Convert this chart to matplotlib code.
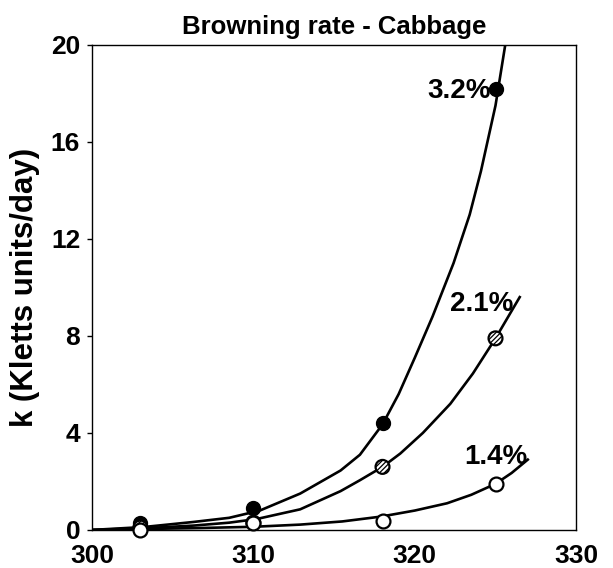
import matplotlib.pyplot as plt

plt.rcParams['font.family'] = ['Liberation Sans', 'DejaVu Sans']
plt.rcParams['font.weight'] = 'bold'
plt.rcParams['hatch.linewidth'] = 0.9

# measured points (temperature, K)
temps = [303, 310, 318, 325]
k_32 = [0.3, 0.9, 4.4, 18.2]
k_21 = [0.1, 0.3, 2.6, 7.9]
k_14 = [0.0, 0.3, 0.35, 1.9]

# fitted curves
fit_x_32 = [300, 303.2, 306.3, 308.5, 310.4, 312.9, 315.4, 316.6, 318.0, 319.0,
            320.0, 321.1, 322.4, 323.4, 324.1, 325.0, 325.7]
fit_y_32 = [0.0, 0.12, 0.33, 0.5, 0.8, 1.5, 2.45, 3.1, 4.35, 5.6,
            7.1, 8.8, 11.0, 13.0, 14.8, 17.5, 20.4]

fit_x_21 = [300, 303.2, 306.3, 308.5, 310.2, 312.9, 315.4, 316.6, 318.0, 319.1,
            320.5, 322.2, 323.6, 325.0, 326.5]
fit_y_21 = [0.0, 0.07, 0.18, 0.3, 0.45, 0.85, 1.6, 2.05, 2.6, 3.15,
            4.0, 5.2, 6.45, 7.9, 9.6]

fit_x_14 = [300, 306.7, 310, 312.9, 315.5, 317.9, 320, 322, 323.5, 325, 326, 327]
fit_y_14 = [0.0, 0.08, 0.13, 0.22, 0.35, 0.55, 0.8, 1.1, 1.45, 1.9, 2.35, 2.9]

labels = ['3.2%', '2.1%', '1.4%']
label_x = [324.7, 326.1, 327.0]
label_y = [18.1, 9.3, 3.0]

fig = plt.figure(figsize=(6.13, 5.68), dpi=100)
ax = fig.add_axes([0.150, 0.067, 0.790, 0.854])

lw = 1.9
ax.plot(fit_x_32, fit_y_32, color='black', lw=lw, solid_joinstyle='round')
ax.plot(fit_x_21, fit_y_21, color='black', lw=lw, solid_joinstyle='round')
ax.plot(fit_x_14, fit_y_14, color='black', lw=lw, solid_joinstyle='round')

ax.scatter(temps, k_32, s=100, facecolor='black', edgecolor='black', zorder=3, clip_on=False)
ax.scatter(temps, k_21, s=100, facecolor='white', edgecolor='black', hatch='/' * 7,
           linewidth=1.6, zorder=3, clip_on=False)
ax.scatter(temps, k_14, s=100, facecolor='white', edgecolor='black',
           linewidth=1.6, zorder=4, clip_on=False)

for lab, lx, ly in zip(labels, label_x, label_y):
    ax.text(lx, ly, lab, ha='right', va='center', fontsize=20, fontweight='bold')

ax.set_xlim(300, 330)
ax.set_ylim(0, 20)
ax.set_xticks([300, 310, 320, 330])
ax.set_yticks([0, 4, 8, 12, 16, 20])
ax.tick_params(axis='y', direction='out', length=3.5, pad=5, labelsize=19, width=1)
ax.tick_params(axis='x', length=0, pad=10, labelsize=19)
for lab in ax.get_xticklabels() + ax.get_yticklabels():
    lab.set_fontweight('bold')

ax.set_ylabel('k (Kletts units/day)', fontsize=22.5, fontweight='bold', labelpad=8)
ax.set_title('Browning rate - Cabbage', fontsize=18.5, fontweight='bold', pad=8)

for s in ax.spines.values():
    s.set_linewidth(1.0)

plt.savefig('out.png', dpi=100)
